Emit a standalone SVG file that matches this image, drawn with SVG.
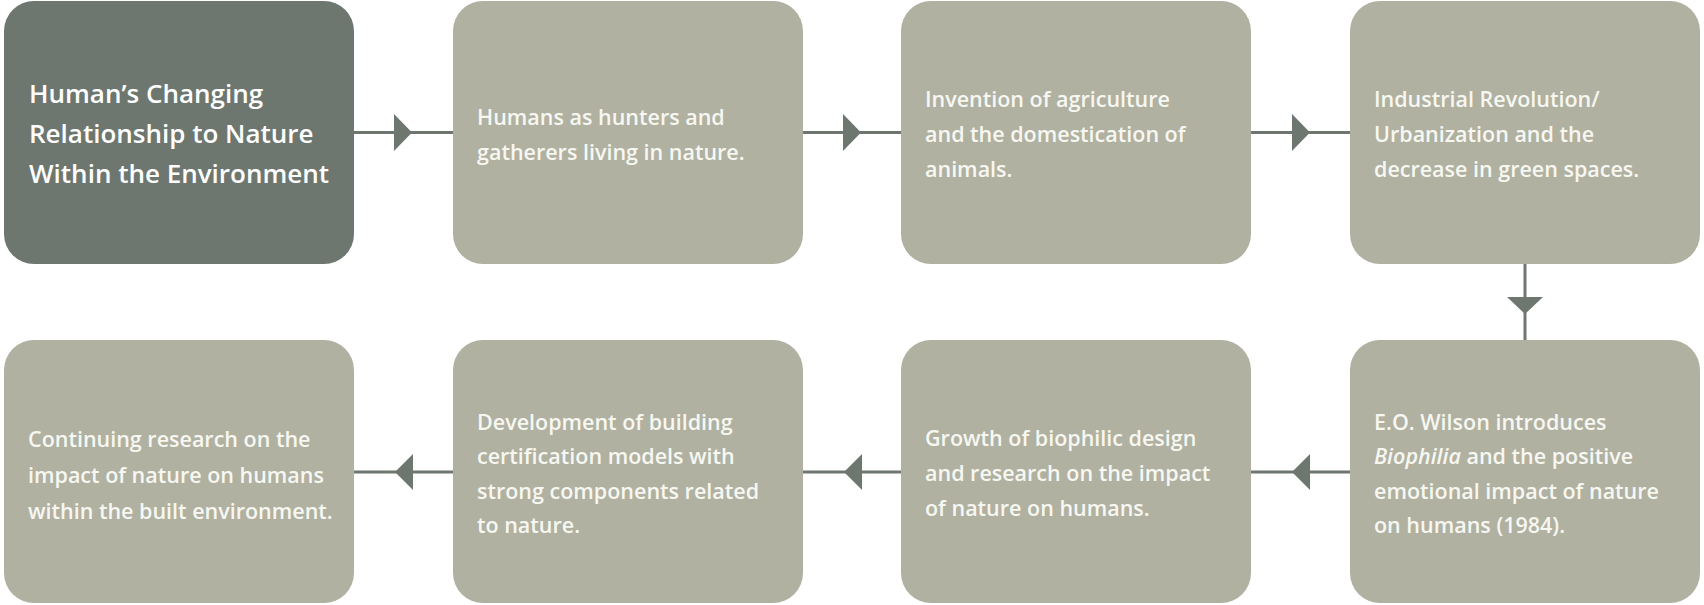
<svg xmlns="http://www.w3.org/2000/svg" width="1704" height="605" viewBox="0 0 1704 605">
<style>
.box{fill:#b0b1a1}
.dark{fill:#6d7770}
.t{font-family:"Open Sans",Lato,sans-serif;font-size:21.5px;font-weight:600;fill:#f7f7f2}
.title{font-family:"Open Sans",Lato,sans-serif;font-size:26px;font-weight:600;fill:#ffffff}
.ln{stroke:#6d7770;stroke-width:3;fill:none}
.hd{fill:#6d7770}
</style>
<rect width="1704" height="605" fill="#ffffff"/>
<g id="connectors">
<line class="ln" x1="354" y1="132.5" x2="453" y2="132.5"/>
<polygon class="hd" points="394,114 412,132.5 394,151"/>
<line class="ln" x1="803" y1="132.5" x2="901" y2="132.5"/>
<polygon class="hd" points="843,114 861,132.5 843,151"/>
<line class="ln" x1="1251" y1="132.5" x2="1350" y2="132.5"/>
<polygon class="hd" points="1292,114 1310,132.5 1292,151"/>
<line class="ln" x1="1525" y1="264" x2="1525" y2="340"/>
<polygon class="hd" points="1507,297 1525,314 1543,297"/>
<line class="ln" x1="1251" y1="472" x2="1350" y2="472"/>
<polygon class="hd" points="1310,454 1292,472 1310,490"/>
<line class="ln" x1="803" y1="472" x2="901" y2="472"/>
<polygon class="hd" points="862,454 844,472 862,490"/>
<line class="ln" x1="354" y1="472" x2="453" y2="472"/>
<polygon class="hd" points="413,454 395,472 413,490"/>
</g>
<g id="n1">
<rect class="dark" x="4" y="1" width="350" height="263" rx="30"/>
<text class="title"><tspan x="29" y="103">Human’s Changing</tspan><tspan x="29" y="143">Relationship to Nature</tspan><tspan x="29" y="183">Within the Environment</tspan></text>
</g>
<g id="n2">
<rect class="box" x="453" y="1" width="350" height="263" rx="30"/>
<text class="t"><tspan x="477" y="125">Humans as hunters and</tspan><tspan x="477" y="160">gatherers living in nature.</tspan></text>
</g>
<g id="n3">
<rect class="box" x="901" y="1" width="350" height="263" rx="30"/>
<text class="t"><tspan x="925" y="107">Invention of agriculture</tspan><tspan x="925" y="142">and the domestication of</tspan><tspan x="925" y="177">animals.</tspan></text>
</g>
<g id="n4">
<rect class="box" x="1350" y="1" width="350" height="263" rx="30"/>
<text class="t"><tspan x="1374" y="107">Industrial Revolution/</tspan><tspan x="1374" y="142">Urbanization and the</tspan><tspan x="1374" y="177">decrease in green spaces.</tspan></text>
</g>
<g id="n5">
<rect class="box" x="1350" y="340" width="350" height="263" rx="30"/>
<text class="t"><tspan x="1374" y="430">E.O. Wilson introduces</tspan><tspan x="1374" y="464"><tspan font-style="italic">Biophilia</tspan> and the positive</tspan><tspan x="1374" y="499">emotional impact of nature</tspan><tspan x="1374" y="533">on humans (1984).</tspan></text>
</g>
<g id="n6">
<rect class="box" x="901" y="340" width="350" height="263" rx="30"/>
<text class="t"><tspan x="925" y="446">Growth of biophilic design</tspan><tspan x="925" y="481">and research on the impact</tspan><tspan x="925" y="516">of nature on humans.</tspan></text>
</g>
<g id="n7">
<rect class="box" x="453" y="340" width="350" height="263" rx="30"/>
<text class="t"><tspan x="477" y="430">Development of building</tspan><tspan x="477" y="464">certification models with</tspan><tspan x="477" y="499">strong components related</tspan><tspan x="477" y="533">to nature.</tspan></text>
</g>
<g id="n8">
<rect class="box" x="4" y="340" width="350" height="263" rx="30"/>
<text class="t"><tspan x="28" y="447">Continuing research on the</tspan><tspan x="28" y="483">impact of nature on humans</tspan><tspan x="28" y="519">within the built environment.</tspan></text>
</g>
</svg>
